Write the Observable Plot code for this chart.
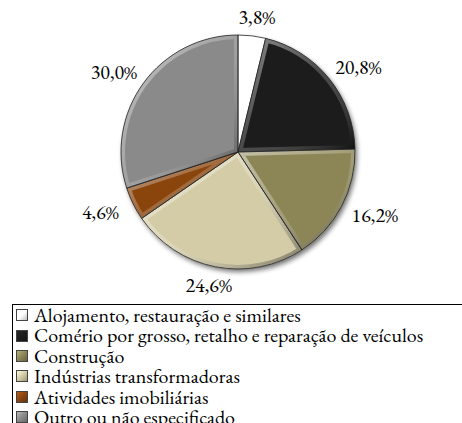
<!DOCTYPE html>
<html><head><meta charset="utf-8">
<script src="https://cdn.jsdelivr.net/npm/d3@7"></script>
<script src="https://cdn.jsdelivr.net/npm/@observablehq/plot@0.6"></script>
<style>
html,body{margin:0;padding:0;background:#fff;overflow:hidden;}
body{width:462px;height:423px;font-family:'EB Garamond','Liberation Serif',serif;}
#legend{margin-left:12px;margin-top:4px;border-top:1px solid #000;border-left:1px solid #000;width:470px;padding:0 0 0 3px;font-size:20px;line-height:20.4px;color:#000;font-family:'EB Garamond','Liberation Serif',serif;}
.row{display:flex;align-items:center;white-space:nowrap;height:20.4px;}
.sw{width:12px;height:12px;margin-right:6px;box-sizing:border-box;border:1px solid #444;flex:none;}
</style></head><body>
<div id="chart"></div><div id="legend"></div>
<script>
const categories = [
  "Alojamento, restauração e similares",
  "Comério por grosso, retalho e reparação de veículos",
  "Construção",
  "Indústrias transformadoras",
  "Atividades imobiliárias",
  "Outro ou não especificado"
];
const values = [3.8, 20.8, 16.2, 24.6, 4.6, 30.0];
const valueLabels = ["3,8%", "20,8%", "16,2%", "24,6%", "4,6%", "30,0%"];
const colors = ["#ffffff", "#1e1e1e", "#8c8557", "#d3cca6", "#8a4511", "#8a8a8a"];

const data = categories.map((c, i) => ({category: c, value: values[i], label: valueLabels[i]}));

const W = 462, H = 300, cx = 238, cy = 152, r = 117;
const FONT = "'EB Garamond', 'Liberation Serif', serif";
const arcs = d3.pie().sort(null).value(d => d.value)(data);
const arc = d3.arc().innerRadius(0).outerRadius(r);

const labelPos = arcs.map(a => {
  const m = (a.startAngle + a.endAngle) / 2;
  const R = 128, hw = 26, hh = 8;
  return {
    label: a.data.label,
    x: cx + Math.sin(m) * (R + hw),
    y: cy - Math.cos(m) * (R + hh)
  };
});

const pieMark = (index, scales, vals, dims, context) => {
  const color = scales.color ?? d3.scaleOrdinal(categories, colors);
  const doc = context.document;
  const g = d3.select(doc.createElementNS("http://www.w3.org/2000/svg", "g"));
  const defs = g.append("defs");
  const f = defs.append("filter").attr("id", "shadow").attr("x", "-20%").attr("y", "-20%").attr("width", "140%").attr("height", "140%");
  f.append("feGaussianBlur").attr("in", "SourceAlpha").attr("stdDeviation", 2.5);
  f.append("feOffset").attr("dx", 2).attr("dy", 3).attr("result", "b");
  f.append("feComponentTransfer").append("feFuncA").attr("type", "linear").attr("slope", 0.55);
  const m = f.append("feMerge");
  m.append("feMergeNode");
  m.append("feMergeNode").attr("in", "SourceGraphic");
  const lg = defs.append("linearGradient").attr("id", "bevel").attr("x1", 0).attr("y1", 0).attr("x2", 1).attr("y2", 1);
  lg.append("stop").attr("offset", "0%").attr("stop-color", "#fff").attr("stop-opacity", 0.5);
  lg.append("stop").attr("offset", "50%").attr("stop-color", "#fff").attr("stop-opacity", 0.2);
  lg.append("stop").attr("offset", "100%").attr("stop-color", "#000").attr("stop-opacity", 0.45);
  const root = g.append("g").attr("transform", `translate(${cx},${cy})`);
  const slices = root.append("g").attr("filter", "url(#shadow)");
  arcs.forEach((a, i) => {
    const d = arc(a);
    defs.append("clipPath").attr("id", "clip" + i).append("path").attr("d", d).attr("transform", `translate(${cx},${cy})`);
    slices.append("path").attr("d", d).attr("fill", color(a.data.category));
  });
  arcs.forEach((a, i) => {
    const d = arc(a);
    root.append("g").attr("clip-path", `url(#clip${i})`).attr("transform", `translate(${-cx},${-cy})`)
      .append("path").attr("d", d).attr("transform", `translate(${cx},${cy})`)
      .attr("fill", "none").attr("stroke", "url(#bevel)").attr("stroke-width", 8).attr("stroke-linejoin", "round");
    root.append("path").attr("d", d).attr("fill", "none").attr("stroke", "#222").attr("stroke-width", 0.8).attr("stroke-linejoin", "round");
  });
  return g.node();
};

const chart = Plot.plot({
  width: W,
  height: H,
  margin: 0,
  x: {type: "identity", axis: null},
  y: {type: "identity", axis: null},
  color: {domain: categories, range: colors},
  style: {fontFamily: FONT, background: "#fff", overflow: "visible"},
  marks: [
    pieMark,
    Plot.text(labelPos, {x: "x", y: "y", text: "label", fontSize: 20, fill: "#000", textAnchor: "middle", fontFamily: FONT})
  ]
});
document.getElementById("chart").appendChild(chart);

const legend = d3.select("#legend");
categories.forEach((c, i) => {
  const row = legend.append("div").attr("class", "row");
  const col = d3.color(colors[i]);
  row.append("div").attr("class", "sw")
    .style("background", `linear-gradient(135deg, ${col.brighter(0.8)} 0%, ${col} 50%, ${col.darker(0.8)} 100%)`);
  row.append("span").style("font-family", FONT).text(c);
});
</script>
</body></html>
